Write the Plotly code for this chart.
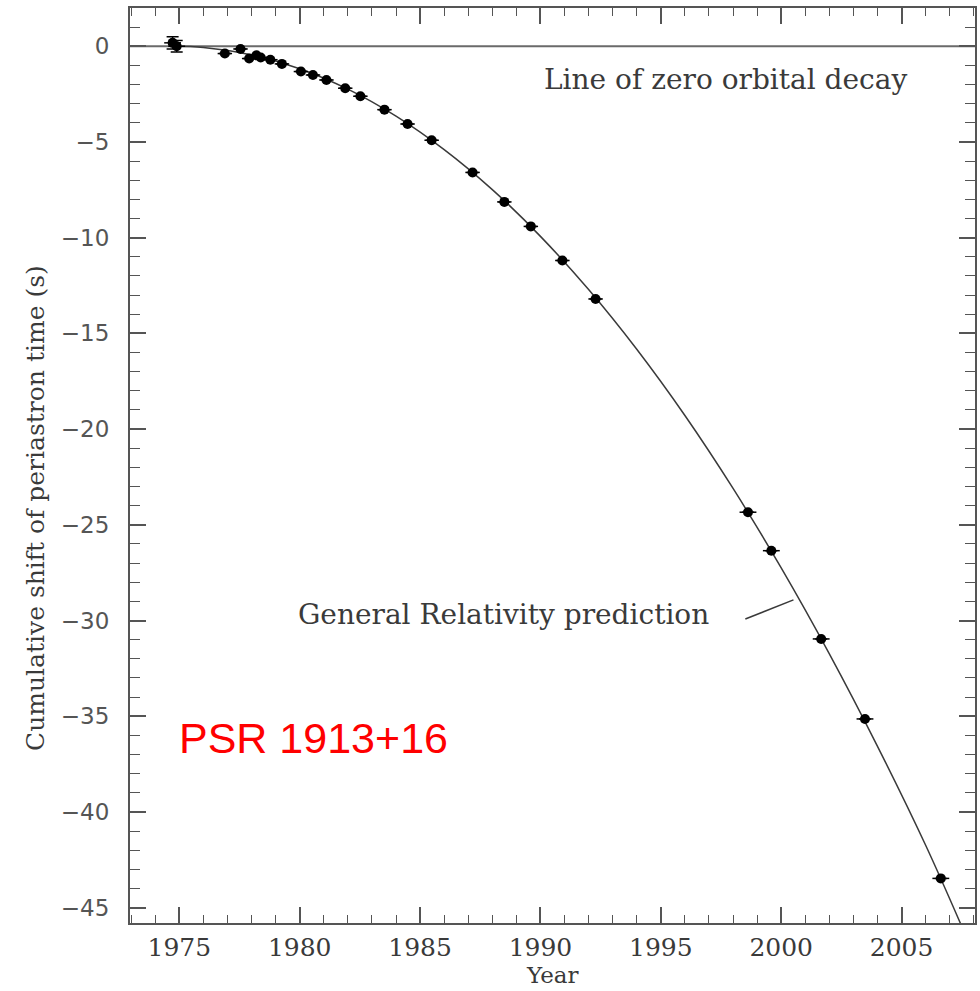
import plotly.graph_objects as go

# Measured cumulative periastron shift of PSR 1913+16
obs_year = [1974.72, 1974.89, 1976.89, 1977.54, 1977.90, 1978.20, 1978.38, 1978.78,
            1979.26, 1980.05, 1980.55, 1981.11, 1981.89, 1982.52, 1983.52, 1984.48,
            1985.48, 1987.18, 1988.50, 1989.60, 1990.91, 1992.29, 1998.62, 1999.59,
            2001.66, 2003.48, 2006.63]
obs_shift = [0.18, 0.00, -0.38, -0.14, -0.64, -0.47, -0.59, -0.70,
             -0.92, -1.32, -1.50, -1.76, -2.19, -2.61, -3.31, -4.06,
             -4.91, -6.59, -8.13, -9.41, -11.19, -13.20, -24.34, -26.35,
             -30.96, -35.14, -43.47]
obs_year_err = [0.35, 0.35, 0.30, 0.30, 0.30, 0.30, 0.30, 0.30,
                0.30, 0.30, 0.30, 0.30, 0.30, 0.30, 0.30, 0.30,
                0.30, 0.30, 0.30, 0.30, 0.30, 0.30, 0.35, 0.35,
                0.35, 0.35, 0.35]
obs_shift_err = [0.32, 0.30, 0, 0, 0, 0, 0, 0,
                 0, 0, 0, 0, 0, 0, 0, 0,
                 0, 0, 0, 0, 0, 0, 0, 0,
                 0, 0, 0]

# General Relativity prediction curve
gr_year = [1974.77, 1976, 1978, 1980, 1982, 1984, 1986, 1988, 1990, 1992,
           1994, 1996, 1998, 2000, 2002, 2004, 2006, 2007.6]
gr_shift = [0.0, -0.06, -0.45, -1.17, -2.24, -3.65, -5.40, -7.49, -9.93, -12.71,
            -15.83, -19.29, -23.10, -27.25, -31.74, -36.57, -41.74, -46.27]

# Zero orbital decay reference
zero_year = [1972.0, 2009.0]
zero_shift = [0.0, 0.0]

x_range = [1972.95, 2008.05]
y_range = [-45.8, 2.0]

INK = "#3a3a3a"
SERIF = "DejaVu Serif"

fig = go.Figure()

fig.add_trace(go.Scatter(
    x=zero_year, y=zero_shift, mode="lines",
    line=dict(color="#6a6a6a", width=2), hoverinfo="skip"))

fig.add_trace(go.Scatter(
    x=gr_year, y=gr_shift, mode="lines", line_shape="spline",
    line=dict(color=INK, width=1.5), hoverinfo="skip"))

fig.add_trace(go.Scatter(
    x=obs_year, y=obs_shift, mode="markers",
    marker=dict(color="black", size=10, line=dict(width=0)),
    error_x=dict(type="data", array=obs_year_err, color="black", thickness=1.5, width=0),
    error_y=dict(type="data", array=obs_shift_err, color="black", thickness=1.5, width=6)))

axis_common = dict(
    showgrid=False, zeroline=False, showline=True, linecolor="#555555", linewidth=2,
    mirror="ticks", ticks="inside", ticklen=16, tickwidth=1.5, tickcolor="#555555",
)

fig.update_xaxes(
    range=x_range, tick0=1975, dtick=5,
    minor=dict(dtick=1, ticks="inside", ticklen=8, tickwidth=1.2, tickcolor="#555555"),
    tickfont=dict(family=SERIF, size=25, color=INK), ticklabelstandoff=1,
    **axis_common)

fig.update_yaxes(
    range=y_range, tick0=0, dtick=5,
    minor=dict(dtick=1, ticks="inside", ticklen=10, tickwidth=1.2, tickcolor="#555555"),
    tickfont=dict(family="DejaVu Sans", size=23, color="#555555"), ticklabelstandoff=14,
    **axis_common)

# Axis titles
fig.add_annotation(
    text="Year", xref="paper", yref="paper", x=0.5, y=-0.0565,
    xanchor="center", yanchor="middle", showarrow=False,
    font=dict(family=SERIF, size=23, color=INK))

fig.add_annotation(
    text="Cumulative shift of periastron time (s)", textangle=-90,
    xref="paper", yref="paper", x=-0.112, y=0.454, xanchor="center", yanchor="middle",
    showarrow=False, font=dict(family=SERIF, size=25, color=INK))

# In-plot labels
fig.add_annotation(
    text="Line of zero orbital decay", x=1997.69, y=-1.74,
    showarrow=False, font=dict(family=SERIF, size=28, color=INK))

fig.add_annotation(
    text="General Relativity prediction", x=1988.47, y=-29.66,
    showarrow=False, font=dict(family=SERIF, size=28, color=INK))

fig.add_shape(type="line", x0=1998.51, y0=-29.92, x1=2000.51, y1=-28.92,
              line=dict(color=INK, width=1.5))

fig.add_annotation(
    text="PSR 1913+16", x=1980.58, y=-36.14,
    showarrow=False, font=dict(family="Liberation Sans", size=43, color="#ff0000"))

fig.update_layout(
    width=980, height=991,
    margin=dict(l=130, r=3, t=8, b=68),
    paper_bgcolor="white", plot_bgcolor="white",
    showlegend=False,
)

fig.write_html("out.html")
